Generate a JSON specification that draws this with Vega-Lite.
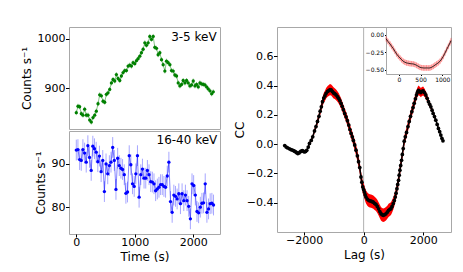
{
"$schema": "https://vega.github.io/schema/vega-lite/v6.json",
"padding": {"left": 19, "top": 26, "right": 5, "bottom": 5},
"background": "white",
"spacing": 11,
"config": {
  "font": "DejaVu Sans",
  "view": {"stroke": "#a8a8a8", "strokeWidth": 1},
  "axis": {"grid": false, "domain": false, "labelFont": "DejaVu Sans", "titleFont": "DejaVu Sans", "labelFontSize": 11, "titleFontSize": 12, "titleFontWeight": "normal", "labelColor": "black", "titleColor": "black", "tickColor": "black", "tickSize": 3.5, "labelPadding": 0.5, "titlePadding": 4},
  "axisX": {"titlePadding": 4, "labelPadding": -1, "tickSize": 3},
  "text": {"font": "DejaVu Sans"}
},
"datasets": {
  "lc1": [
    {"t":0,"v":851,"e":5},{"t":29,"v":864,"e":5},{"t":57,"v":863,"e":5},{"t":86,"v":849,"e":5},{"t":114,"v":846,"e":5},{"t":143,"v":858,"e":5},{"t":172,"v":846,"e":5},{"t":200,"v":846,"e":5},{"t":229,"v":836,"e":5},{"t":257,"v":832,"e":5},
    {"t":286,"v":841,"e":5},{"t":315,"v":846,"e":5},{"t":343,"v":854,"e":5},{"t":372,"v":869,"e":5},{"t":400,"v":887,"e":5},{"t":429,"v":885,"e":5},{"t":458,"v":874,"e":5},{"t":486,"v":872,"e":5},{"t":515,"v":888,"e":5},{"t":543,"v":891,"e":5},
    {"t":572,"v":898,"e":5},{"t":601,"v":911,"e":5},{"t":629,"v":918,"e":5},{"t":658,"v":915,"e":5},{"t":686,"v":928,"e":5},{"t":715,"v":920,"e":5},{"t":744,"v":916,"e":5},{"t":772,"v":925,"e":5},{"t":801,"v":932,"e":5},{"t":829,"v":936,"e":5},
    {"t":858,"v":936,"e":5},{"t":887,"v":945,"e":5},{"t":915,"v":947,"e":5},{"t":944,"v":945,"e":5},{"t":972,"v":952,"e":5},{"t":1001,"v":950,"e":5},{"t":1030,"v":956,"e":5},{"t":1058,"v":960,"e":5},{"t":1087,"v":965,"e":5},{"t":1115,"v":972,"e":5},
    {"t":1144,"v":979,"e":5},{"t":1173,"v":992,"e":5},{"t":1201,"v":987,"e":5},{"t":1230,"v":992,"e":5},{"t":1258,"v":1005,"e":5},{"t":1287,"v":999,"e":5},{"t":1316,"v":1005,"e":5},{"t":1344,"v":983,"e":5},{"t":1373,"v":981,"e":5},{"t":1401,"v":968,"e":5},
    {"t":1430,"v":972,"e":5},{"t":1459,"v":958,"e":5},{"t":1487,"v":948,"e":5},{"t":1516,"v":935,"e":5},{"t":1544,"v":955,"e":5},{"t":1573,"v":952,"e":5},{"t":1602,"v":948,"e":5},{"t":1630,"v":936,"e":5},{"t":1659,"v":935,"e":5},{"t":1687,"v":927,"e":5},
    {"t":1716,"v":925,"e":5},{"t":1745,"v":911,"e":5},{"t":1773,"v":905,"e":5},{"t":1802,"v":908,"e":5},{"t":1830,"v":916,"e":5},{"t":1859,"v":911,"e":5},{"t":1888,"v":916,"e":5},{"t":1916,"v":911,"e":5},{"t":1945,"v":905,"e":5},{"t":1973,"v":907,"e":5},
    {"t":2002,"v":915,"e":5},{"t":2031,"v":905,"e":5},{"t":2059,"v":908,"e":5},{"t":2088,"v":903,"e":5},{"t":2116,"v":911,"e":5},{"t":2145,"v":909,"e":5},{"t":2174,"v":908,"e":5},{"t":2202,"v":907,"e":5},{"t":2231,"v":903,"e":5},{"t":2259,"v":899,"e":5},
    {"t":2288,"v":895,"e":5},{"t":2317,"v":889,"e":5},{"t":2345,"v":893,"e":5}
  ],
  "lc2": [
    {"t":0,"v":93.2,"e":2.4},{"t":28,"v":93.3,"e":2.4},{"t":57,"v":91.0,"e":2.4},{"t":85,"v":90.8,"e":2.4},{"t":113,"v":93.3,"e":2.4},{"t":142,"v":92.5,"e":2.4},{"t":170,"v":90.4,"e":2.4},{"t":198,"v":94.2,"e":2.4},{"t":226,"v":91.5,"e":2.4},{"t":255,"v":88.5,"e":2.4},
    {"t":283,"v":94.1,"e":2.4},{"t":311,"v":93.5,"e":2.4},{"t":340,"v":92.7,"e":2.4},{"t":368,"v":90.5,"e":2.4},{"t":396,"v":91.8,"e":2.4},{"t":425,"v":88.2,"e":2.4},{"t":453,"v":90.8,"e":2.4},{"t":481,"v":83.6,"e":2.4},{"t":509,"v":90.0,"e":2.4},{"t":538,"v":87.7,"e":2.4},
    {"t":566,"v":89.6,"e":2.4},{"t":594,"v":90.4,"e":2.4},{"t":623,"v":93.8,"e":2.4},{"t":651,"v":90.8,"e":2.4},{"t":679,"v":84.1,"e":2.4},{"t":708,"v":91.3,"e":2.4},{"t":736,"v":89.6,"e":2.4},{"t":764,"v":89.0,"e":2.4},{"t":792,"v":88.7,"e":2.4},{"t":821,"v":87.5,"e":2.4},
    {"t":849,"v":83.2,"e":2.4},{"t":877,"v":83.5,"e":2.4},{"t":906,"v":91.9,"e":2.4},{"t":934,"v":89.8,"e":2.4},{"t":962,"v":85.4,"e":2.4},{"t":991,"v":84.8,"e":2.4},{"t":1019,"v":87.7,"e":2.4},{"t":1047,"v":91.9,"e":2.4},{"t":1075,"v":82.3,"e":2.4},{"t":1104,"v":87.5,"e":2.4},
    {"t":1132,"v":88.8,"e":2.4},{"t":1160,"v":86.7,"e":2.4},{"t":1189,"v":86.7,"e":2.4},{"t":1217,"v":88.5,"e":2.4},{"t":1245,"v":87.5,"e":2.4},{"t":1274,"v":85.9,"e":2.4},{"t":1302,"v":85.8,"e":2.4},{"t":1330,"v":85.4,"e":2.4},{"t":1358,"v":83.8,"e":2.4},{"t":1387,"v":84.2,"e":2.4},
    {"t":1415,"v":84.6,"e":2.4},{"t":1443,"v":85.2,"e":2.4},{"t":1472,"v":85.2,"e":2.4},{"t":1500,"v":84.8,"e":2.4},{"t":1528,"v":84.6,"e":2.4},{"t":1557,"v":87.2,"e":2.4},{"t":1585,"v":90.4,"e":2.4},{"t":1613,"v":81.3,"e":2.4},{"t":1641,"v":78.8,"e":2.4},{"t":1670,"v":82.8,"e":2.4},
    {"t":1698,"v":82.5,"e":2.4},{"t":1726,"v":81.9,"e":2.4},{"t":1755,"v":83.1,"e":2.4},{"t":1783,"v":80.8,"e":2.4},{"t":1811,"v":83.1,"e":2.4},{"t":1840,"v":81.5,"e":2.4},{"t":1868,"v":82.8,"e":2.4},{"t":1896,"v":81.5,"e":2.4},{"t":1924,"v":80.2,"e":2.4},{"t":1953,"v":77.3,"e":2.4},
    {"t":1981,"v":85.4,"e":2.4},{"t":2009,"v":85.0,"e":2.4},{"t":2038,"v":82.8,"e":2.4},{"t":2066,"v":79.0,"e":2.4},{"t":2094,"v":78.7,"e":2.4},{"t":2123,"v":80.0,"e":2.4},{"t":2151,"v":80.9,"e":2.4},{"t":2179,"v":81.0,"e":2.4},{"t":2207,"v":85.4,"e":2.4},{"t":2236,"v":78.8,"e":2.4},
    {"t":2264,"v":79.6,"e":2.4},{"t":2292,"v":80.8,"e":2.4},{"t":2321,"v":80.9,"e":2.4},{"t":2349,"v":80.5,"e":2.4}
  ],
  "cc": [
    {"lag":-2650,"cc":-0.010,"e":0.004},{"lag":-2600,"cc":-0.020,"e":0.004},{"lag":-2550,"cc":-0.026,"e":0.004},{"lag":-2490,"cc":-0.032,"e":0.004},{"lag":-2440,"cc":-0.037,"e":0.004},{"lag":-2400,"cc":-0.040,"e":0.004},{"lag":-2360,"cc":-0.044,"e":0.004},{"lag":-2320,"cc":-0.048,"e":0.004},{"lag":-2280,"cc":-0.053,"e":0.004},{"lag":-2250,"cc":-0.058,"e":0.004},
    {"lag":-2210,"cc":-0.064,"e":0.004},{"lag":-2170,"cc":-0.060,"e":0.004},{"lag":-2130,"cc":-0.052,"e":0.004},{"lag":-2100,"cc":-0.047,"e":0.004},{"lag":-2060,"cc":-0.045,"e":0.004},{"lag":-2030,"cc":-0.048,"e":0.004},{"lag":-1990,"cc":-0.053,"e":0.004},{"lag":-1950,"cc":-0.050,"e":0.005},{"lag":-1910,"cc":-0.042,"e":0.006},{"lag":-1860,"cc":-0.020,"e":0.008},
    {"lag":-1820,"cc":0.005,"e":0.010},{"lag":-1760,"cc":0.025,"e":0.012},{"lag":-1710,"cc":0.050,"e":0.015},{"lag":-1650,"cc":0.090,"e":0.018},{"lag":-1600,"cc":0.120,"e":0.020},{"lag":-1550,"cc":0.155,"e":0.022},{"lag":-1500,"cc":0.190,"e":0.025},{"lag":-1460,"cc":0.225,"e":0.027},{"lag":-1420,"cc":0.255,"e":0.030},{"lag":-1380,"cc":0.290,"e":0.032},
    {"lag":-1340,"cc":0.315,"e":0.034},{"lag":-1300,"cc":0.330,"e":0.035},{"lag":-1260,"cc":0.347,"e":0.036},{"lag":-1210,"cc":0.360,"e":0.037},{"lag":-1170,"cc":0.366,"e":0.038},{"lag":-1130,"cc":0.372,"e":0.038},{"lag":-1090,"cc":0.370,"e":0.038},{"lag":-1050,"cc":0.360,"e":0.038},{"lag":-1010,"cc":0.350,"e":0.038},{"lag":-970,"cc":0.345,"e":0.037},
    {"lag":-925,"cc":0.336,"e":0.037},{"lag":-880,"cc":0.325,"e":0.036},{"lag":-840,"cc":0.313,"e":0.036},{"lag":-800,"cc":0.298,"e":0.035},{"lag":-757,"cc":0.279,"e":0.035},{"lag":-720,"cc":0.258,"e":0.034},{"lag":-680,"cc":0.235,"e":0.034},{"lag":-635,"cc":0.210,"e":0.034},{"lag":-590,"cc":0.187,"e":0.034},{"lag":-545,"cc":0.160,"e":0.034},
    {"lag":-500,"cc":0.130,"e":0.034},{"lag":-460,"cc":0.100,"e":0.034},{"lag":-420,"cc":0.073,"e":0.034},{"lag":-380,"cc":0.050,"e":0.035},{"lag":-345,"cc":0.025,"e":0.035},{"lag":-300,"cc":-0.005,"e":0.036},{"lag":-255,"cc":-0.041,"e":0.037},{"lag":-210,"cc":-0.080,"e":0.038},{"lag":-170,"cc":-0.120,"e":0.039},{"lag":-130,"cc":-0.160,"e":0.040},
    {"lag":-90,"cc":-0.224,"e":0.041},{"lag":-60,"cc":-0.260,"e":0.042},{"lag":-30,"cc":-0.292,"e":0.043},{"lag":0,"cc":-0.310,"e":0.043},{"lag":25,"cc":-0.326,"e":0.044},{"lag":50,"cc":-0.345,"e":0.044},{"lag":80,"cc":-0.361,"e":0.045},{"lag":125,"cc":-0.375,"e":0.045},{"lag":170,"cc":-0.384,"e":0.045},{"lag":210,"cc":-0.387,"e":0.045},
    {"lag":250,"cc":-0.389,"e":0.045},{"lag":290,"cc":-0.393,"e":0.045},{"lag":325,"cc":-0.396,"e":0.045},{"lag":370,"cc":-0.405,"e":0.045},{"lag":415,"cc":-0.412,"e":0.045},{"lag":460,"cc":-0.425,"e":0.046},{"lag":503,"cc":-0.442,"e":0.046},{"lag":545,"cc":-0.460,"e":0.046},{"lag":583,"cc":-0.475,"e":0.046},{"lag":620,"cc":-0.482,"e":0.046},
    {"lag":660,"cc":-0.486,"e":0.046},{"lag":705,"cc":-0.482,"e":0.046},{"lag":750,"cc":-0.476,"e":0.046},{"lag":795,"cc":-0.465,"e":0.045},{"lag":838,"cc":-0.452,"e":0.045},{"lag":880,"cc":-0.446,"e":0.044},{"lag":918,"cc":-0.440,"e":0.044},{"lag":955,"cc":-0.425,"e":0.043},{"lag":995,"cc":-0.406,"e":0.042},{"lag":1030,"cc":-0.385,"e":0.041},
    {"lag":1062,"cc":-0.361,"e":0.040},{"lag":1090,"cc":-0.335,"e":0.040},{"lag":1119,"cc":-0.304,"e":0.039},{"lag":1145,"cc":-0.275,"e":0.038},{"lag":1173,"cc":-0.247,"e":0.038},{"lag":1195,"cc":-0.212,"e":0.037},{"lag":1219,"cc":-0.178,"e":0.037},{"lag":1245,"cc":-0.145,"e":0.036},{"lag":1273,"cc":-0.110,"e":0.036},{"lag":1300,"cc":-0.070,"e":0.035},
    {"lag":1330,"cc":-0.030,"e":0.035},{"lag":1363,"cc":0.020,"e":0.035},{"lag":1400,"cc":0.050,"e":0.034},{"lag":1441,"cc":0.080,"e":0.034},{"lag":1490,"cc":0.120,"e":0.034},{"lag":1531,"cc":0.155,"e":0.033},{"lag":1575,"cc":0.190,"e":0.033},{"lag":1620,"cc":0.222,"e":0.033},{"lag":1660,"cc":0.250,"e":0.033},{"lag":1698,"cc":0.279,"e":0.033},
    {"lag":1740,"cc":0.310,"e":0.033},{"lag":1776,"cc":0.336,"e":0.033},{"lag":1810,"cc":0.355,"e":0.033},{"lag":1843,"cc":0.368,"e":0.033},{"lag":1885,"cc":0.360,"e":0.032},{"lag":1923,"cc":0.352,"e":0.032},{"lag":1960,"cc":0.360,"e":0.031},{"lag":2000,"cc":0.363,"e":0.030},{"lag":2045,"cc":0.352,"e":0.028},{"lag":2090,"cc":0.336,"e":0.026},
    {"lag":2135,"cc":0.313,"e":0.024},{"lag":2178,"cc":0.290,"e":0.022},{"lag":2220,"cc":0.272,"e":0.020},{"lag":2258,"cc":0.255,"e":0.018},{"lag":2300,"cc":0.232,"e":0.016},{"lag":2335,"cc":0.210,"e":0.014},{"lag":2380,"cc":0.188,"e":0.012},{"lag":2425,"cc":0.164,"e":0.010},{"lag":2470,"cc":0.135,"e":0.009},{"lag":2513,"cc":0.107,"e":0.008},
    {"lag":2555,"cc":0.085,"e":0.007},{"lag":2593,"cc":0.062,"e":0.006},{"lag":2630,"cc":0.040,"e":0.006},{"lag":2665,"cc":0.023,"e":0.005}
  ],
  "inset": [
    {"lag":-294,"cc":-0.057,"e":0.04},{"lag":-250,"cc":-0.095,"e":0.04},{"lag":-202,"cc":-0.132,"e":0.04},{"lag":-165,"cc":-0.165,"e":0.04},{"lag":-126,"cc":-0.198,"e":0.04},{"lag":-90,"cc":-0.235,"e":0.04},{"lag":-51,"cc":-0.273,"e":0.04},{"lag":-10,"cc":-0.305,"e":0.04},{"lag":28,"cc":-0.330,"e":0.04},{"lag":65,"cc":-0.355,"e":0.04},
    {"lag":103,"cc":-0.377,"e":0.04},{"lag":140,"cc":-0.390,"e":0.04},{"lag":179,"cc":-0.400,"e":0.04},{"lag":218,"cc":-0.405,"e":0.04},{"lag":257,"cc":-0.410,"e":0.04},{"lag":295,"cc":-0.412,"e":0.04},{"lag":333,"cc":-0.415,"e":0.04},{"lag":370,"cc":-0.422,"e":0.04},{"lag":409,"cc":-0.434,"e":0.04},{"lag":448,"cc":-0.448,"e":0.04},
    {"lag":487,"cc":-0.462,"e":0.04},{"lag":525,"cc":-0.468,"e":0.04},{"lag":563,"cc":-0.471,"e":0.04},{"lag":600,"cc":-0.472,"e":0.04},{"lag":639,"cc":-0.471,"e":0.04},{"lag":678,"cc":-0.472,"e":0.04},{"lag":717,"cc":-0.471,"e":0.04},{"lag":755,"cc":-0.462,"e":0.04},{"lag":793,"cc":-0.448,"e":0.04},{"lag":830,"cc":-0.432,"e":0.04},
    {"lag":869,"cc":-0.415,"e":0.04},{"lag":908,"cc":-0.398,"e":0.04},{"lag":947,"cc":-0.377,"e":0.04},{"lag":985,"cc":-0.345,"e":0.04},{"lag":1023,"cc":-0.307,"e":0.04},{"lag":1060,"cc":-0.262,"e":0.04},{"lag":1099,"cc":-0.212,"e":0.04},{"lag":1138,"cc":-0.165,"e":0.04},{"lag":1177,"cc":-0.117,"e":0.04},{"lag":1200,"cc":-0.085,"e":0.04}
  ]
},
"hconcat": [
  {
    "spacing": 0,
    "vconcat": [
      {
        "width": 151, "height": 102,
        "layer": [
          {"data": {"name": "lc1"}, "mark": {"type": "errorbar", "color": "#008000", "opacity": 0.4, "thickness": 1},
           "encoding": {
             "x": {"field": "t", "type": "quantitative", "scale": {"domain": [-125, 2460], "nice": false, "zero": false}, "axis": null},
             "y": {"field": "v", "type": "quantitative", "scale": {"domain": [818, 1024], "nice": false, "zero": false}, "axis": {"values": [900, 1000], "format": "d", "title": "Counts s⁻¹"}},
             "yError": {"field": "e"}}},
          {"data": {"name": "lc1"}, "mark": {"type": "line", "color": "#008000", "strokeWidth": 0.8, "opacity": 0.6},
           "encoding": {
             "x": {"field": "t", "type": "quantitative", "scale": {"domain": [-125, 2460], "nice": false, "zero": false}, "axis": null},
             "y": {"field": "v", "type": "quantitative", "scale": {"domain": [818, 1024], "nice": false, "zero": false}, "axis": {"values": [900, 1000], "format": "d", "title": "Counts s⁻¹"}}}},
          {"data": {"name": "lc1"}, "mark": {"type": "point", "filled": true, "color": "#008000", "size": 11, "opacity": 1},
           "encoding": {
             "x": {"field": "t", "type": "quantitative", "scale": {"domain": [-125, 2460], "nice": false, "zero": false}, "axis": null},
             "y": {"field": "v", "type": "quantitative", "scale": {"domain": [818, 1024], "nice": false, "zero": false}, "axis": {"values": [900, 1000], "format": "d", "title": "Counts s⁻¹"}}}},
          {"data": {"values": [{"label": "3-5 keV"}]}, "mark": {"type": "text", "align": "right", "baseline": "alphabetic", "fontSize": 12, "color": "black"},
           "encoding": {"x": {"datum": 2403, "type": "quantitative"}, "y": {"datum": 996.7, "type": "quantitative"}, "text": {"field": "label", "type": "nominal"}}}
        ]
      },
      {
        "width": 151, "height": 103,
        "layer": [
          {"data": {"name": "lc2"}, "mark": {"type": "errorbar", "color": "#0000ff", "opacity": 0.35, "thickness": 1},
           "encoding": {
             "x": {"field": "t", "type": "quantitative", "scale": {"domain": [-125, 2460], "nice": false, "zero": false}, "axis": {"values": [0, 1000, 2000], "format": "d", "title": "Time (s)"}},
             "y": {"field": "v", "type": "quantitative", "scale": {"domain": [73.8, 97.6], "nice": false, "zero": false}, "axis": {"values": [80, 90], "format": "d", "title": "Counts s⁻¹"}},
             "yError": {"field": "e"}}},
          {"data": {"name": "lc2"}, "mark": {"type": "line", "color": "#0000ff", "strokeWidth": 0.8, "opacity": 0.6},
           "encoding": {
             "x": {"field": "t", "type": "quantitative", "scale": {"domain": [-125, 2460], "nice": false, "zero": false}, "axis": {"values": [0, 1000, 2000], "format": "d", "title": "Time (s)"}},
             "y": {"field": "v", "type": "quantitative", "scale": {"domain": [73.8, 97.6], "nice": false, "zero": false}, "axis": {"values": [80, 90], "format": "d", "title": "Counts s⁻¹"}}}},
          {"data": {"name": "lc2"}, "mark": {"type": "point", "filled": true, "color": "#0000ff", "size": 11, "opacity": 1},
           "encoding": {
             "x": {"field": "t", "type": "quantitative", "scale": {"domain": [-125, 2460], "nice": false, "zero": false}, "axis": {"values": [0, 1000, 2000], "format": "d", "title": "Time (s)"}},
             "y": {"field": "v", "type": "quantitative", "scale": {"domain": [73.8, 97.6], "nice": false, "zero": false}, "axis": {"values": [80, 90], "format": "d", "title": "Counts s⁻¹"}}}},
          {"data": {"values": [{"label": "16-40 keV"}]}, "mark": {"type": "text", "align": "right", "baseline": "alphabetic", "fontSize": 12, "color": "black"},
           "encoding": {"x": {"datum": 2414, "type": "quantitative"}, "y": {"datum": 94.5, "type": "quantitative"}, "text": {"field": "label", "type": "nominal"}}}
        ]
      }
    ]
  },
  {
    "width": 174, "height": 205,
    "layer": [
      {
        "layer": [
          {"data": {"values": [{"lag": 0}]}, "mark": {"type": "rule", "color": "#b0b0b0", "strokeWidth": 1},
           "encoding": {"x": {"field": "lag", "type": "quantitative", "scale": {"domain": [-2910, 2935], "nice": false, "zero": false}, "axis": {"values": [-2000, 0, 2000], "format": "d", "title": "Lag (s)", "orient": "bottom"}}}},
          {"data": {"name": "cc"}, "mark": {"type": "errorband", "color": "#ff0000", "opacity": 1},
           "encoding": {
             "x": {"field": "lag", "type": "quantitative", "scale": {"domain": [-2910, 2935], "nice": false, "zero": false}, "axis": {"values": [-2000, 0, 2000], "format": "d", "title": "Lag (s)", "orient": "bottom"}},
             "y": {"field": "cc", "type": "quantitative", "scale": {"domain": [-0.6, 0.8], "nice": false, "zero": false}, "axis": {"values": [-0.4, -0.2, 0, 0.2, 0.4, 0.6], "format": ".1f", "title": "CC", "orient": "left", "titlePadding": 0}},
             "yError": {"field": "e"}}},
          {"data": {"name": "cc"}, "mark": {"type": "line", "color": "black", "strokeWidth": 1.5},
           "encoding": {
             "x": {"field": "lag", "type": "quantitative", "scale": {"domain": [-2910, 2935], "nice": false, "zero": false}, "axis": {"values": [-2000, 0, 2000], "format": "d", "title": "Lag (s)", "orient": "bottom"}},
             "y": {"field": "cc", "type": "quantitative", "scale": {"domain": [-0.6, 0.8], "nice": false, "zero": false}, "axis": {"values": [-0.4, -0.2, 0, 0.2, 0.4, 0.6], "format": ".1f", "title": "CC", "orient": "left", "titlePadding": 0}}}},
          {"data": {"name": "cc"}, "mark": {"type": "point", "filled": true, "color": "black", "size": 14, "opacity": 1},
           "encoding": {
             "x": {"field": "lag", "type": "quantitative", "scale": {"domain": [-2910, 2935], "nice": false, "zero": false}, "axis": {"values": [-2000, 0, 2000], "format": "d", "title": "Lag (s)", "orient": "bottom"}},
             "y": {"field": "cc", "type": "quantitative", "scale": {"domain": [-0.6, 0.8], "nice": false, "zero": false}, "axis": {"values": [-0.4, -0.2, 0, 0.2, 0.4, 0.6], "format": ".1f", "title": "CC", "orient": "left", "titlePadding": 0}}}}
        ]
      },
      {
        "data": {"name": "inset"},
        "encoding": {
          "x": {"field": "lag", "type": "quantitative", "scale": {"domain": [-294, 1200], "range": [109, 174], "nice": false, "zero": false}, "axis": {"orient": "bottom", "offset": -158, "values": [0, 500, 1000], "format": "d", "title": null, "labelFontSize": 6, "tickSize": 1.5, "labelPadding": 0.5, "domain": true, "domainColor": "#a8a8a8"}},
          "y": {"field": "cc", "type": "quantitative", "scale": {"domain": [-0.557, 0.109], "range": [47, 0], "nice": false, "zero": false}, "axis": {"orient": "left", "offset": -109, "values": [-0.5, -0.25, 0], "format": ".2f", "title": null, "labelFontSize": 6, "tickSize": 1.5, "labelPadding": 1, "domain": true, "domainColor": "#a8a8a8"}}
        },
        "layer": [
          {"mark": {"type": "errorband", "color": "#ff0000", "opacity": 0.22}, "encoding": {"yError": {"field": "e"}}},
          {"mark": {"type": "errorbar", "color": "#ff0000", "opacity": 0.3, "thickness": 1}, "encoding": {"yError": {"field": "e"}}},
          {"mark": {"type": "line", "color": "black", "strokeWidth": 0.8}}
        ]
      }
    ],
    "resolve": {"scale": {"x": "independent", "y": "independent"}, "axis": {"x": "independent", "y": "independent"}}
  }
]
}
